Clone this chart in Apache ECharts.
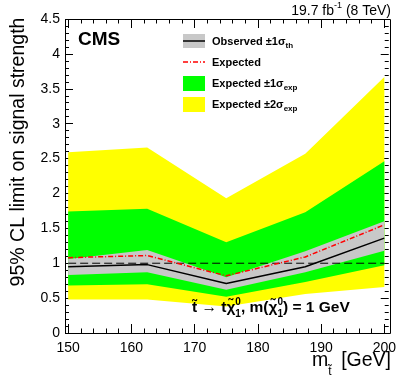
<!DOCTYPE html>
<html>
<head>
<meta charset="utf-8">
<script src="https://cdn.jsdelivr.net/npm/echarts@6/dist/echarts.min.js"></script>
<style>
html, body { margin: 0; padding: 0; background: #fff; }
#chart { width: 399px; height: 383px; }
</style>
</head>
<body>
<div id="chart"></div>
<script>
// stop mass points (GeV)
const masses = [150, 162.5, 175, 187.5, 200];
// observed limit and its +-1 sigma theory band
const observed = [0.95, 0.98, 0.71, 0.95, 1.36];
const obsUp = [1.06, 1.19, 0.80, 1.17, 1.60];
const obsDown = [0.83, 0.87, 0.62, 0.87, 1.18];
// expected limit and bands
const expected = [1.08, 1.11, 0.82, 1.09, 1.55];
const exp1Up = [1.74, 1.78, 1.30, 1.73, 2.46];
const exp1Down = [0.68, 0.70, 0.52, 0.73, 0.97];
const exp2Up = [2.59, 2.66, 1.93, 2.57, 3.67];
const exp2Down = [0.48, 0.48, 0.38, 0.56, 0.66];
// tick values
const xMajorTicks = [150, 160, 170, 180, 190, 200];
const xMinorTicks = [152, 154, 156, 158, 162, 164, 166, 168, 172, 174, 176, 178,
  182, 184, 186, 188, 192, 194, 196, 198];

const FONT = '"Liberation Sans", Arial, Helvetica, sans-serif';
const ctx = document.createElement('canvas').getContext('2d');
function tw(text, font) {
  ctx.font = font;
  return ctx.measureText(text).width;
}

function pairs(ys) {
  return masses.map((m, i) => [m, ys[i]]);
}

// filled band between lo and hi, drawn as one polygon
function band(lo, hi, color) {
  return {
    type: 'custom', silent: true,
    data: [0],
    renderItem: (params, api) => {
      const pts = [];
      masses.forEach((m, i) => pts.push(api.coord([m, hi[i]])));
      for (let i = masses.length - 1; i >= 0; i--) pts.push(api.coord([masses[i], lo[i]]));
      return { type: 'polygon', shape: { points: pts }, style: { fill: color } };
    }
  };
}

function txt(x, y, text, font, align) {
  return {
    type: 'text', x: x, y: y, z: 120,
    style: {
      text: text, font: font, fill: '#000',
      align: align || 'left', textAlign: align || 'left',
      verticalAlign: 'middle', textVerticalAlign: 'middle'
    }
  };
}

// text with subscript / superscript pieces laid out in a row
function row(x, y, parts) {
  const out = [];
  let cx = x;
  parts.forEach(p => {
    if (p.stack) {
      let w = 0;
      p.stack.forEach(s => {
        out.push(txt(cx, y + s.dy, s.t, s.font));
        w = Math.max(w, tw(s.t, s.font));
      });
      cx += w;
    } else {
      out.push(txt(cx, y + (p.dy || 0), p.t, p.font));
      cx += tw(p.t, p.font);
    }
  });
  return { els: out, width: cx - x };
}

function buildGraphics() {
  const els = [];
  // frame
  els.push({
    type: 'rect', z: 110, silent: true,
    shape: { x: 65.5, y: 19.5, width: 325, height: 314 },
    style: { fill: 'none', stroke: '#000', lineWidth: 1 }
  });

  // top right lumi label
  const f14 = '14px ' + FONT;
  const f9 = '9px ' + FONT;
  const lumiParts = [
    { t: '19.7 fb', font: f14 },
    { t: '-1', font: f9, dy: -5 },
    { t: ' (8 TeV)', font: f14 }
  ];
  const lumiW = row(0, 0, lumiParts).width;
  els.push(...row(391 - lumiW, 11, lumiParts).els);

  // CMS
  els.push(txt(78, 40, 'CMS', 'bold 19px ' + FONT));

  // legend
  const fl = 'bold 11px ' + FONT;
  const fs = 'bold 8px ' + FONT;
  els.push({ type: 'rect', z: 115, shape: { x: 183, y: 34, width: 22, height: 14 },
    style: { fill: '#c8c8c8' } });
  els.push({ type: 'line', z: 116, shape: { x1: 183, y1: 41, x2: 205, y2: 41 },
    style: { stroke: '#000', lineWidth: 1.5 } });
  els.push({ type: 'line', z: 116, shape: { x1: 183, y1: 62, x2: 205, y2: 62 },
    style: { stroke: '#ff0000', lineWidth: 1.5, lineDash: [5, 2, 1, 2] } });
  els.push({ type: 'rect', z: 115, shape: { x: 183, y: 76, width: 22, height: 15 },
    style: { fill: '#00ff00' } });
  els.push({ type: 'rect', z: 115, shape: { x: 183, y: 97, width: 22, height: 15 },
    style: { fill: '#ffff00' } });
  els.push(...row(212, 42, [{ t: 'Observed \u00B11\u03C3', font: fl }, { t: 'th', font: fs, dy: 4 }]).els);
  els.push(...row(212, 63, [{ t: 'Expected', font: fl }]).els);
  els.push(...row(212, 84, [{ t: 'Expected \u00B11\u03C3', font: fl }, { t: 'exp', font: fs, dy: 4 }]).els);
  els.push(...row(212, 105, [{ t: 'Expected \u00B12\u03C3', font: fl }, { t: 'exp', font: fs, dy: 4 }]).els);

  // process annotation
  const fa = 'bold 15.5px ' + FONT;
  const fas = 'bold 10px ' + FONT;
  const supsub = { stack: [{ t: '0', font: fas, dy: -6 }, { t: '1', font: fas, dy: 6 }] };
  els.push(...row(192, 308, [
    { t: 't\u0303', font: fa },
    { t: ' \u2192 ', font: fa },
    { t: 't\u03C7\u0303', font: fa },
    supsub,
    { t: ', m(\u03C7\u0303', font: fa },
    supsub,
    { t: ') = 1 GeV', font: fa }
  ]).els);

  // x axis title
  const ft = '19.5px ' + FONT;
  els.push(txt(312, 361, 'm', ft));
  els.push(txt(312 + tw('m', ft), 372, 't\u0303', '12px ' + FONT));
  els.push(txt(391, 361, '[GeV]', ft, 'right'));

  // y axis title
  els.push({
    type: 'text', x: 19, y: 152, rotation: Math.PI / 2, z: 120,
    style: {
      text: '95% CL limit on signal strength', font: ft, fill: '#000',
      align: 'center', textAlign: 'center',
      verticalAlign: 'middle', textVerticalAlign: 'middle'
    }
  });
  return els;
}

function xAxisDef(position, ticks, len, labels) {
  return {
    type: 'value', position: position, min: 149.5, max: 200.7,
    axisLine: { show: false },
    splitLine: { show: false },
    minorTick: { show: false },
    axisTick: { show: true, inside: true, length: len, customValues: ticks,
      lineStyle: { color: '#000', width: 1 } },
    axisLabel: labels
      ? { show: true, customValues: ticks, color: '#000', fontSize: 14, fontFamily: FONT, margin: 8 }
      : { show: false }
  };
}

function yAxisDef(position, labels) {
  return {
    type: 'value', position: position, min: 0, max: 4.5, interval: 0.5,
    axisLine: { show: false },
    splitLine: { show: false },
    axisTick: { show: true, inside: true, length: 8, lineStyle: { color: '#000', width: 1 } },
    minorTick: { show: true, splitNumber: 5, length: 4, lineStyle: { color: '#000', width: 1 } },
    axisLabel: labels
      ? { show: true, color: '#000', fontSize: 14, fontFamily: FONT, margin: 5 }
      : { show: false }
  };
}

const chart = echarts.init(document.getElementById('chart'));
chart.setOption({
  animation: false,
  backgroundColor: '#fff',
  grid: { left: 65, right: 9, top: 19, bottom: 50 },
  xAxis: [
    xAxisDef('bottom', xMajorTicks, 9, true),
    xAxisDef('bottom', xMinorTicks, 4.5, false),
    xAxisDef('top', xMajorTicks, 9, false),
    xAxisDef('top', xMinorTicks, 4.5, false)
  ],
  yAxis: [yAxisDef('left', true), yAxisDef('right', false)],
  series: [
    band(exp2Down, exp2Up, '#ffff00'),
    band(exp1Down, exp1Up, '#00ff00'),
    band(obsDown, obsUp, '#c8c8c8'),
    {
      type: 'line', data: [[150, 1], [200, 1]], symbol: 'none', silent: true,
      lineStyle: { color: '#000', width: 1, type: [8, 4] }
    },
    {
      type: 'line', data: pairs(expected), symbol: 'none', silent: true,
      lineStyle: { color: '#ff0000', width: 1.5, type: [5, 2, 1, 2] }
    },
    {
      type: 'line', data: pairs(observed), symbol: 'none', silent: true,
      lineStyle: { color: '#000', width: 1.5 }
    }
  ],
  graphic: { elements: buildGraphics() }
});
</script>
</body>
</html>
